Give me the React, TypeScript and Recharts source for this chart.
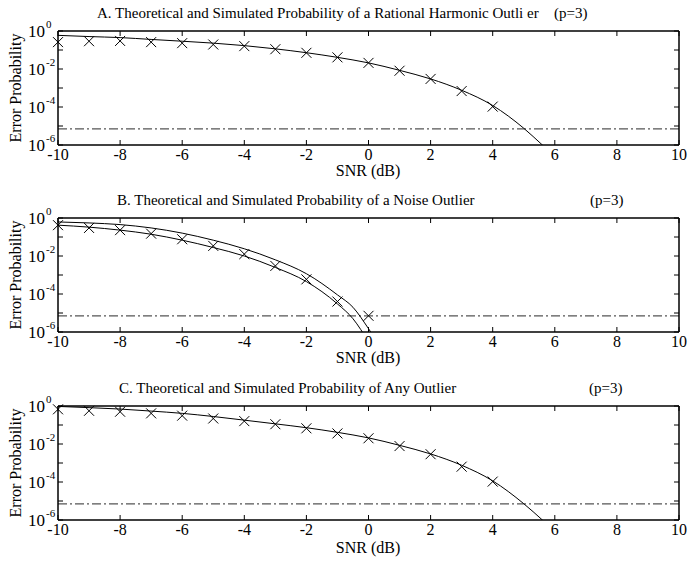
import React from 'react';
import { LineChart, Line, XAxis, YAxis, ReferenceLine } from 'recharts';

// SNR grid (dB) for the simulated points
const simSnr = [-10, -9, -8, -7, -6, -5, -4, -3, -2, -1, 0, 1, 2, 3, 4];

// A. rational harmonic outlier
const theorySnrA = [-10, -9, -8, -7, -6, -5, -4, -3, -2, -1, 0, 1, 2, 3, 4, 5, 5.6, 6];
const theoryA = [0.59, 0.51, 0.45, 0.36, 0.29, 0.23, 0.17, 0.115, 0.072, 0.041, 0.021, 0.0085, 0.003, 7.6e-4, 1.2e-4, 7.6e-6, 1e-6, 2.5e-7];
const simA = [0.26, 0.29, 0.3, 0.26, 0.23, 0.195, 0.16, 0.11, 0.071, 0.041, 0.021, 0.0081, 0.003, 6.9e-4, 1.05e-4];

// B. noise outlier (two theoretical bounds)
const theorySnrBUpper = [-10, -9, -8, -7, -6, -5, -4, -3, -2, -1, -0.5, 0, 0.5];
const theoryBUpper = [0.62, 0.55, 0.45, 0.3, 0.16, 0.068, 0.024, 0.0063, 1.17e-3, 9e-5, 2e-5, 1.5e-6, 8e-8];
const theorySnrBLower = [-10, -9, -8, -7, -6, -5, -4, -3, -2, -1, -0.5, 0];
const theoryBLower = [0.42, 0.33, 0.23, 0.14, 0.068, 0.028, 0.01, 2.5e-3, 4.5e-4, 3e-5, 5e-6, 3e-7];
const simSnrB = [-10, -9, -8, -7, -6, -5, -4, -3, -2, -1, 0];
const simB = [0.42, 0.3, 0.23, 0.15, 0.076, 0.034, 0.0126, 0.003, 5.9e-4, 4e-5, 7.1e-6];

// C. any outlier
const theorySnrC = [-10, -9, -8, -7, -6, -5, -4, -3, -2, -1, 0, 1, 2, 3, 4, 5, 5.6, 6];
const theoryC = [0.95, 0.82, 0.69, 0.54, 0.41, 0.28, 0.18, 0.115, 0.072, 0.041, 0.021, 0.0085, 0.003, 7.6e-4, 1.15e-4, 7.2e-6, 1e-6, 2.5e-7];
const simC = [0.67, 0.56, 0.5, 0.41, 0.31, 0.22, 0.16, 0.11, 0.067, 0.036, 0.02, 0.0078, 0.0029, 6.4e-4, 1.05e-4];

const threshold = 7e-6;

const xTicks = [-10, -8, -6, -4, -2, 0, 2, 4, 6, 8, 10];
const yTicks = [1e-6, 1e-5, 1e-4, 1e-3, 1e-2, 1e-1, 1];

const FONT = '"Liberation Serif", "Times New Roman", serif';

// plot box size (688 wide chart, 58px left axis, 9px right strip)
const PLOT_W = 621;
const PLOT_H = 114;

function mergeRows(series: Record<string, [number[], number[]]>) {
  const map = new Map<number, any>();
  Object.entries(series).forEach(([key, [xs, ys]]) => {
    xs.forEach((x, i) => {
      const row = map.get(x) ?? { snr: x };
      row[key] = ys[i];
      map.set(x, row);
    });
  });
  return [...map.values()].sort((a, b) => a.snr - b.snr);
}

// left tick also draws its mirror on the right edge; the top decade draws the top border
const LeftTick = (props: any) => {
  const x = Number(props.x);
  const y = Number(props.y);
  const exp = Math.round(Math.log10(Number(props.payload.value)));
  const marks = `M${x},${y}H${x + 5}M${x + PLOT_W - 5},${y}H${x + PLOT_W}`;
  return (
    <g>
      <path d={marks} stroke="#000" strokeWidth={1} fill="none" />
      {exp === 0 && <path d={`M${x},${y}H${x + PLOT_W}`} stroke="#000" strokeWidth={1.5} fill="none" />}
      {exp % 2 === 0 && (
        <text y={y + 6} fontFamily={FONT} fill="#000">
          <tspan x={x - 13} textAnchor="end" fontSize={17}>10</tspan>
          <tspan x={x - 12} dy={-9} fontSize={11}>{String(exp === 0 ? 0 : exp)}</tspan>
        </text>
      )}
    </g>
  );
};

// bottom tick also draws its mirror on the top edge; the last tick draws the right border
const BottomTick = (props: any) => {
  const x = Number(props.x);
  const y = Number(props.y);
  const v = Number(props.payload.value);
  const marks = `M${x},${y}V${y - 5}M${x},${y - PLOT_H}V${y - PLOT_H + 5}`;
  return (
    <g>
      <path d={marks} stroke="#000" strokeWidth={1} fill="none" />
      {v === 10 && <path d={`M${x},${y}V${y - PLOT_H}`} stroke="#000" strokeWidth={1.5} fill="none" />}
      <text x={x} y={y + 15} textAnchor="middle" fontSize={16} fontFamily={FONT} fill="#000">
        {v}
      </text>
    </g>
  );
};

const XMark = ({ cx, cy }: any) => {
  if (cx == null || cy == null) return <g />;
  return (
    <path d={`M${cx - 5},${cy - 5}L${cx + 5},${cy + 5}M${cx - 5},${cy + 5}L${cx + 5},${cy - 5}`} stroke="#000" strokeWidth={1} fill="none" />
  );
};

interface PanelProps {
  top: number;
  rows: any[];
  theoryKeys: string[];
}

function Panel({ top, rows, theoryKeys }: PanelProps) {
  const height = 31 + PLOT_H + 30 + 10;
  return (
    <div style={{ position: 'absolute', left: 0, top: top, width: 688, height }}>
      <LineChart width={688} height={height} data={rows} margin={{ top: 11, right: 0, bottom: 10, left: 0 }}>
        <XAxis xAxisId="b" dataKey="snr" type="number" domain={[-10, 10]} ticks={xTicks} interval={0}
          tickSize={0} tickMargin={0} tick={BottomTick} axisLine={{ stroke: '#000', strokeWidth: 1.5 }} height={30} />
        <XAxis xAxisId="t" orientation="top" dataKey="snr" type="number" domain={[-10, 10]}
          tick={false} tickLine={false} axisLine={false} height={20} />
        <YAxis yAxisId="l" scale="log" type="number" domain={[1e-6, 1]} ticks={yTicks} interval={0} allowDataOverflow
          tickSize={0} tickMargin={0} tick={LeftTick} axisLine={{ stroke: '#000', strokeWidth: 1.5 }} width={58} />
        <YAxis yAxisId="r" orientation="right" scale="log" type="number" domain={[1e-6, 1]}
          tick={false} tickLine={false} axisLine={false} width={9} />
        <ReferenceLine xAxisId="b" yAxisId="l" y={threshold} stroke="#555" strokeDasharray="9 3 2 3" strokeWidth={1.2} />
        {theoryKeys.map((k) => (
          <Line key={k} xAxisId="b" yAxisId="l" dataKey={k} type="monotone" stroke="#000" strokeWidth={1}
            dot={false} connectNulls isAnimationActive={false} />
        ))}
        {/* simulated points use the unclipped mirror axes (same scales) */}
        <Line xAxisId="t" yAxisId="r" dataKey="sim" stroke="none" dot={XMark} activeDot={false}
          connectNulls isAnimationActive={false} />
      </LineChart>
    </div>
  );
}

const rowsA = mergeRows({ theory: [theorySnrA, theoryA], sim: [simSnr, simA] });
const rowsB = mergeRows({
  upper: [theorySnrBUpper, theoryBUpper],
  lower: [theorySnrBLower, theoryBLower],
  sim: [simSnrB, simB],
});
const rowsC = mergeRows({ theory: [theorySnrC, theoryC], sim: [simSnr, simC] });

const titleStyle = { fontFamily: FONT, fontSize: 15, fill: '#000' } as const;
const labelStyle = { fontFamily: FONT, fontSize: 16, fill: '#000' } as const;

export default function App() {
  const panels = [
    { top: 0, title: 'A. Theoretical and Simulated Probability of a Rational Harmonic Outli er', tx: 97, px: 554, snrY: 176 },
    { top: 187, title: 'B. Theoretical and Simulated Probability of a Noise Outlier', tx: 117, px: 590, snrY: 176 },
    { top: 375, title: 'C. Theoretical and Simulated Probability of Any Outlier', tx: 119, px: 589, snrY: 178 },
  ];
  return (
    <div style={{ position: 'absolute', left: 0, top: 0, width: 688, height: 563, background: '#fff' }}>
      <svg width={688} height={563} style={{ position: 'absolute', left: 0, top: 0 }}>
        {panels.map((p) => (
          <g key={p.title}>
            <text x={p.tx} y={p.top + 18} style={titleStyle}>{p.title}</text>
            <text x={p.px} y={p.top + 18} style={titleStyle}>(p=3)</text>
            <text transform={`translate(21, ${p.top + 88}) rotate(-90)`} textAnchor="middle" style={labelStyle}>
              Error Probability
            </text>
            <text x={368} y={p.top + p.snrY} textAnchor="middle" style={labelStyle}>SNR (dB)</text>
          </g>
        ))}
      </svg>
      <Panel top={0} rows={rowsA} theoryKeys={['theory']} />
      <Panel top={187} rows={rowsB} theoryKeys={['upper', 'lower']} />
      <Panel top={375} rows={rowsC} theoryKeys={['theory']} />
    </div>
  );
}
